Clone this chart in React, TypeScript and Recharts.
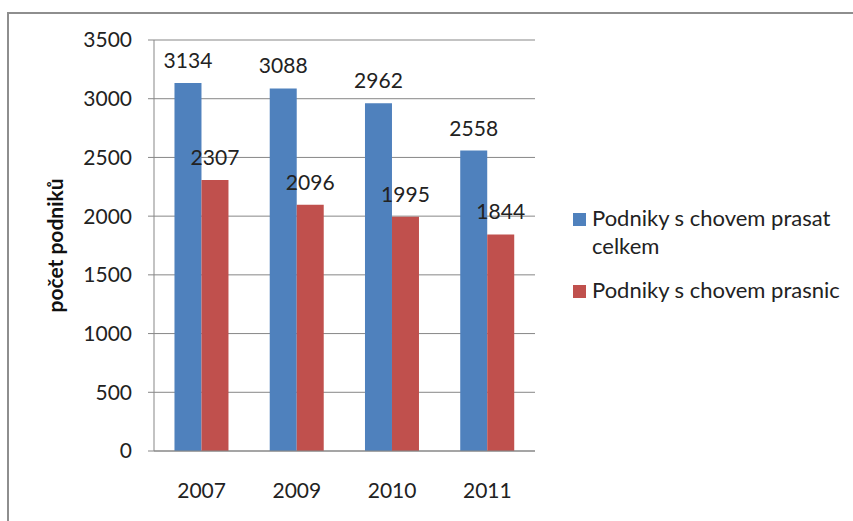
import { Bar, BarChart, CartesianGrid, LabelList, XAxis, YAxis, Label } from 'recharts';

const years = ['2007', '2009', '2010', '2011'];
const prasataCelkem = [3134, 3088, 2962, 2558];
const prasnice = [2307, 2096, 1995, 1844];
const yTicks = [0, 500, 1000, 1500, 2000, 2500, 3000, 3500];

const seriesNames = ['Podniky s chovem prasat celkem', 'Podniky s chovem prasnic'];
const seriesColors = ['#4F81BD', '#C0504D'];

const data = years.map((year, i) => ({
  year,
  celkem: prasataCelkem[i],
  prasnice: prasnice[i],
}));

const FONT = 'Lato, "Open Sans", sans-serif';
const TEXT = '#222';
const AXIS = '#878787';
const FS = 21;

function ChartLegend() {
  return (
    <div
      style={{
        position: 'absolute',
        left: 573,
        top: 204,
        width: 275,
        fontFamily: FONT,
        fontSize: 22,
        color: TEXT,
        lineHeight: '28px',
      }}
    >
      {seriesNames.map((name, i) => (
        <div key={name} style={{ display: 'flex', alignItems: 'flex-start', marginBottom: 16 }}>
          <span
            style={{
              width: 13,
              height: 13,
              background: seriesColors[i],
              marginTop: 9,
              marginRight: 6,
              flexShrink: 0,
            }}
          />
          <span style={{ width: 255 }}>{name}</span>
        </div>
      ))}
    </div>
  );
}

export default function App() {
  return (
    <div style={{ position: 'absolute', left: 0, top: 0, width: 853, height: 521, background: '#fff', overflow: 'hidden' }}>
      <div
        style={{
          position: 'absolute',
          left: 7,
          top: 12,
          right: -4,
          bottom: -4,
          borderTop: '2px solid #8e8e8e',
          borderLeft: '2px solid #8e8e8e',
        }}
      />
      <BarChart
        width={853}
        height={521}
        data={data}
        margin={{ top: 40, right: 318, bottom: 40, left: 44 }}
        barGap={0}
        barCategoryGap="21.5%"
        style={{ position: 'absolute', left: 0, top: 0 }}
      >
        <CartesianGrid vertical={false} stroke={AXIS} />
        <XAxis
          dataKey="year"
          height={30}
          stroke={AXIS}
          tickLine={false}
          tickMargin={26}
          tick={{ fill: TEXT, fontSize: FS, fontFamily: FONT }}
        />
        <YAxis
          width={110}
          domain={[0, 3500]}
          ticks={yTicks}
          stroke={AXIS}
          tickSize={6}
          tickMargin={16}
          tick={{ fill: TEXT, fontSize: FS, fontFamily: FONT }}
        >
          <Label
            value="počet podniků"
            angle={-90}
            position="insideLeft"
            offset={12}
            style={{ textAnchor: 'middle', fontWeight: 700, fontSize: FS, fontFamily: FONT, fill: '#111' }}
          />
        </YAxis>
        <Bar dataKey="celkem" fill={seriesColors[0]} isAnimationActive={false}>
          <LabelList dataKey="celkem" position="top" offset={15} fill={TEXT} fontSize={FS} fontFamily={FONT} />
        </Bar>
        <Bar dataKey="prasnice" fill={seriesColors[1]} isAnimationActive={false}>
          <LabelList dataKey="prasnice" position="top" offset={15} fill={TEXT} fontSize={FS} fontFamily={FONT} />
        </Bar>
      </BarChart>
      <ChartLegend />
    </div>
  );
}
